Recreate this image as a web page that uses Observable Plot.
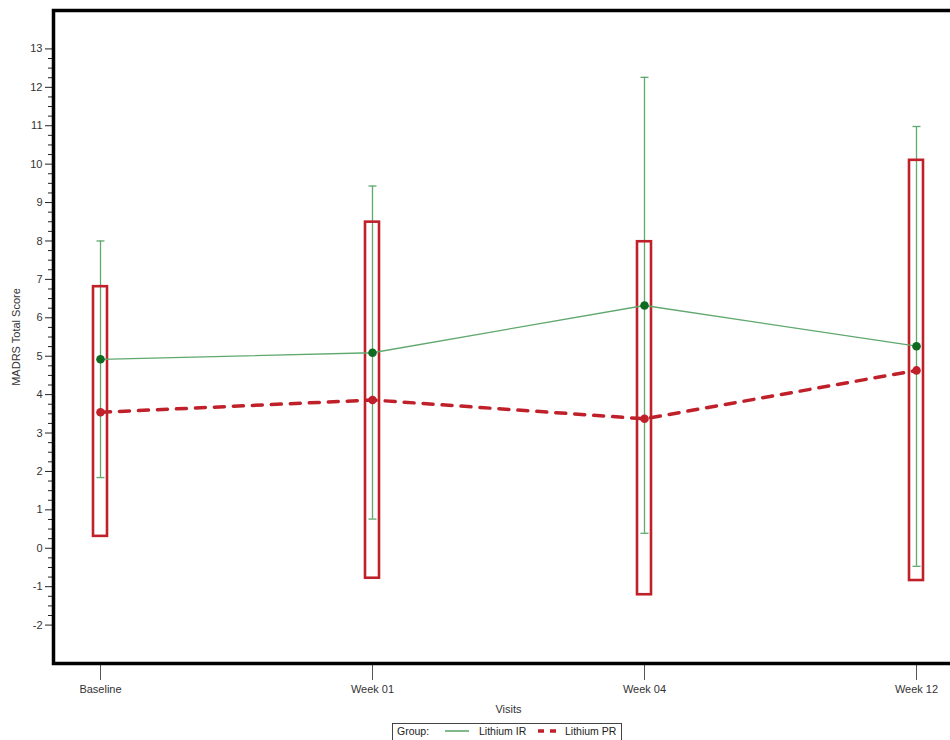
<!DOCTYPE html>
<html>
<head>
<meta charset="utf-8">
<script src="https://cdn.jsdelivr.net/npm/d3@7"></script>
<script src="https://cdn.jsdelivr.net/npm/@observablehq/plot@0.6"></script>
<style>
  html, body { margin: 0; padding: 0; overflow: hidden; background: #fff; width: 950px; height: 740px; }
  #wrap { position: relative; width: 950px; height: 740px; overflow: hidden; }
  #chart { position: absolute; left: 0; top: 0; width: 966px; }
  #chart svg { max-width: none !important; }
  #legend {
    position: absolute; left: 392px; top: 723px; width: 230px; height: 26px;
    border: 1px solid #444; box-sizing: border-box; white-space: nowrap;
    font-family: "Liberation Sans", Arial, sans-serif; font-size: 10.5px; color: #222;
  }
  #legend > * { position: absolute; top: 1px; line-height: 13px; white-space: nowrap; }
  #legend svg { top: 3px; }
</style>
</head>
<body>
<div id="wrap">
  <div id="chart"></div>
  <div id="legend">
    <span style="left:4px">Group:</span>
    <svg style="left:52px" width="24" height="8"><line x1="0" x2="24" y1="4" y2="4" stroke="#5fa86e" stroke-width="1.6"/></svg>
    <span style="left:86px">Lithium IR</span>
    <svg style="left:145px" width="18" height="8"><line x1="0" x2="18" y1="4" y2="4" stroke="#c0202a" stroke-width="3.5" stroke-dasharray="6,6"/></svg>
    <span style="left:172px">Lithium PR</span>
  </div>
</div>
<script>
const visits = ["Baseline", "Week 01", "Week 04", "Week 12"];
const irMean = [4.92, 5.09, 6.32, 5.26];
const irLow  = [1.84, 0.76, 0.39, -0.47];
const irHigh = [8.00, 9.43, 12.26, 10.98];
const prMean = [3.54, 3.86, 3.37, 4.63];
const prLow  = [0.31, -0.78, -1.21, -0.84];
const prHigh = [6.81, 8.49, 7.98, 10.10];
const yMajorTicks = d3.range(-2, 14);
const yMinorTicks = d3.range(-2, 13.001, 0.25).filter(v => !Number.isInteger(v));

const ir = visits.map((v, i) => ({visit: v, mean: irMean[i], lo: irLow[i], hi: irHigh[i]}));
const pr = visits.map((v, i) => ({visit: v, mean: prMean[i], lo: prLow[i], hi: prHigh[i]}));

const GREEN = "#5fa86e", GREEN_DOT = "#0f6b22", RED = "#c0202a";

// horizontal cap symbol for error bars
const capSymbol = {
  draw(ctx, size) {
    const w = Math.sqrt(size / Math.PI);
    ctx.moveTo(-w, 0);
    ctx.lineTo(w, 0);
  }
};

const chart = Plot.plot({
  width: 966,
  height: 720,
  marginLeft: 53,
  marginRight: 3,
  marginTop: 10,
  marginBottom: 57,
  style: {fontFamily: "'Liberation Sans', Arial, sans-serif", fontSize: "11px", color: "#333", background: "white", overflow: "visible", maxWidth: "none"},
  x: {type: "band", domain: visits, range: [93, 923], paddingInner: 1 - 14 / 272, paddingOuter: 0},
  y: {domain: [-3, 14]},
  marks: [
    Plot.axisY(yMinorTicks, {tickSize: 5, tickFormat: () => "", label: null, stroke: "#222"}),
    Plot.axisY(yMajorTicks, {tickSize: 8, tickPadding: 3, tickFormat: d => `${d}`, stroke: "#222",
      label: "MADRS Total Score", labelAnchor: "center", labelArrow: "none", labelOffset: 41}),
    Plot.axisX({tickSize: 17, tickPadding: 5, stroke: "#555", label: "Visits", labelAnchor: "center", labelArrow: "none", labelOffset: 49}),
    Plot.ruleX(ir, {x: "visit", y1: "lo", y2: "hi", stroke: GREEN, strokeWidth: 1.3}),
    Plot.dot(ir, {x: "visit", y: "hi", symbol: capSymbol, r: 4, stroke: GREEN, strokeWidth: 1.3}),
    Plot.dot(ir, {x: "visit", y: "lo", symbol: capSymbol, r: 4, stroke: GREEN, strokeWidth: 1.3}),
    Plot.barY(pr, {x: "visit", y1: "lo", y2: "hi", fill: "none", stroke: RED, strokeWidth: 2.6}),
    Plot.line(ir, {x: "visit", y: "mean", stroke: GREEN, strokeWidth: 1.3}),
    Plot.line(pr, {x: "visit", y: "mean", stroke: RED, strokeWidth: 3.5, strokeDasharray: "10,9"}),
    Plot.dot(ir, {x: "visit", y: "mean", r: 4.3, fill: GREEN_DOT}),
    Plot.dot(pr, {x: "visit", y: "mean", r: 4.3, fill: RED}),
    Plot.frame({stroke: "black", strokeWidth: 3.5})
  ]
});
document.getElementById("chart").appendChild(chart);
</script>
</body>
</html>
